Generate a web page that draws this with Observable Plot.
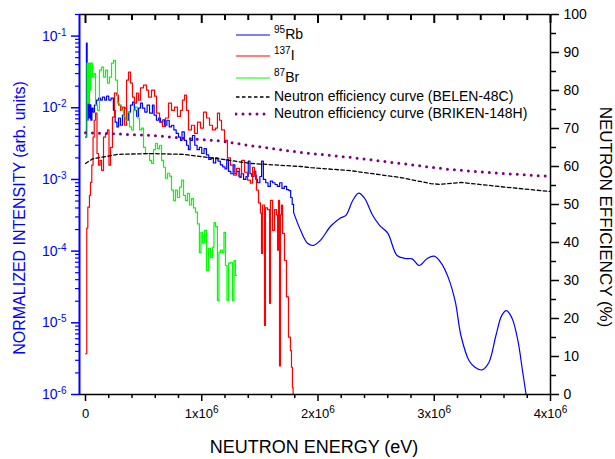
<!DOCTYPE html>
<html><head><meta charset="utf-8">
<script src="https://cdn.jsdelivr.net/npm/d3@7"></script>
<script src="https://cdn.jsdelivr.net/npm/@observablehq/plot@0.6"></script>
<style>
html,body{margin:0;padding:0;background:#fff;}
#wrap{position:relative;width:615px;height:459px;font-family:"Liberation Sans",Arial,sans-serif;}
#wrap svg{position:absolute;left:0;top:0;}
.leg{position:absolute;left:235px;font-size:14px;line-height:20px;height:20px;white-space:nowrap;color:#000;}
.leg svg{position:static !important;vertical-align:middle;margin-right:3px;}
.leg sup{font-size:10px;vertical-align:6px;line-height:0;}
</style>
</head><body>
<div id="wrap"></div>
<script>
// ---- data (energy in keV, intensity normalized) ----
const rb95Hist = [[0,3.9e-3],[8,8.0e-2],[14,6.7e-3],[22,2.4e-2],[30,7.2e-3],[38,1.1e-2],[46,6.7e-3],[55,9.9e-3],[65,8.7e-3],[77,1.09e-2],[95,1.28e-2],[112,1.36e-2],[129,1.28e-2],[145,1.41e-2],[165,1.28e-2],[181,1.45e-2],[200,1.28e-2],[220,1.36e-2],[240,9.2e-3],[255,6.3e-3],[270,5.4e-3],[284,7.2e-3],[300,5.7e-3],[318,7.9e-3],[335,9.9e-3],[353,6.7e-3],[370,8.7e-3],[387,1.09e-2],[405,1.2e-2],[420,9.2e-3],[439,7.6e-3],[456,9.9e-3],[473,1.16e-2],[490,9.9e-3],[510,8.7e-3],[530,1.09e-2],[551,8.4e-3],[576,1.09e-2],[590,7.9e-3],[610,6.7e-3],[628,7.2e-3],[645,6.3e-3],[665,6.8e-3],[680,5.7e-3],[700,6.7e-3],[720,5.4e-3],[740,5.7e-3],[760,4.9e-3],[780,4.4e-3],[800,3.9e-3],[817,3.5e-3],[830,4.6e-3],[850,3.5e-3],[869,3.0e-3],[885,2.6e-3],[900,3.5e-3],[920,4.1e-3],[940,3.0e-3],[960,2.6e-3],[980,2.8e-3],[1000,2.3e-3],[1020,2.7e-3],[1040,2.2e-3],[1060,1.9e-3],[1080,2.0e-3],[1100,1.7e-3],[1120,2.0e-3],[1140,1.8e-3],[1160,1.6e-3],[1180,1.5e-3],[1200,1.4e-3],[1215,1.9e-3],[1230,1.3e-3],[1250,1.2e-3],[1270,1.6e-3],[1285,1.2e-3],[1300,1.3e-3],[1320,1.1e-3],[1340,1.2e-3],[1360,1.0e-3],[1380,1.1e-3],[1400,1.8e-3],[1415,1.2e-3],[1430,1.1e-3],[1450,1.3e-3],[1465,1.0e-3],[1480,9.0e-4],[1500,1.1e-3],[1515,1.8e-3],[1530,1.0e-3],[1550,9.0e-4],[1570,8.0e-4],[1590,9.5e-4],[1610,9.0e-4],[1630,8.5e-4],[1650,8.0e-4],[1670,9.0e-4],[1690,7.5e-4],[1710,8.0e-4],[1730,7.2e-4],[1750,7.0e-4],[1765,5.6e-4],[1778,4.5e-4],[1790,3.5e-4]];
const rb95Smooth = [[1790,3.47e-4],[1850,1.95e-4],[1910,1.29e-4],[1960,1.2e-4],[2020,1.41e-4],[2110,2.24e-4],[2190,2.88e-4],[2240,3.16e-4],[2300,5.13e-4],[2350,6.46e-4],[2400,5.5e-4],[2470,3.16e-4],[2530,2.29e-4],[2600,1.78e-4],[2680,8.7e-5],[2750,7.9e-5],[2810,7.8e-5],[2870,6.3e-5],[2940,7.9e-5],[3000,8.5e-5],[3060,6.8e-5],[3120,4.3e-5],[3180,2.0e-5],[3230,6.6e-6],[3300,2.95e-6],[3350,2.4e-6],[3410,2.2e-6],[3470,2.8e-6],[3530,6.6e-6],[3580,1.26e-5],[3620,1.48e-5],[3670,1.15e-5],[3720,5.6e-6],[3760,2.1e-6],[3790,1.0e-6]];
const i137Hist = [[0,3.7e-6],[11,2.1e-4],[20,4.1e-4],[34,6.0e-4],[43,9.1e-4],[54,1.58e-3],[65,3.9e-3],[75,6.7e-3],[86,8.4e-3],[99,2.3e-3],[112,1.58e-3],[125,1.85e-3],[138,1.34e-3],[155,3.9e-3],[172,4.4e-3],[189,4.9e-3],[202,1.58e-3],[215,2.8e-3],[232,7.4e-3],[249,1.6e-2],[267,1.5e-2],[284,1.09e-2],[301,9.2e-3],[318,1.02e-2],[335,5.7e-3],[353,2.43e-2],[370,3.14e-2],[387,2.21e-2],[404,1.41e-2],[421,1.16e-2],[439,1.6e-2],[456,1.28e-2],[473,1.9e-2],[499,2.07e-2],[525,1.76e-2],[542,1.41e-2],[568,1.76e-2],[594,1.45e-2],[611,8.4e-3],[637,6.3e-3],[662,5.5e-3],[688,7.2e-3],[714,1.16e-2],[740,9.2e-3],[766,1.02e-2],[791,7.6e-3],[817,9.2e-3],[834,1.28e-2],[852,1.5e-2],[869,9.2e-3],[886,4.9e-3],[912,5.7e-3],[938,4.4e-3],[963,6.3e-3],[989,5.2e-3],[1015,8.7e-3],[1041,7.2e-3],[1067,5.7e-3],[1092,4.9e-3],[1118,5.2e-3],[1135,8.4e-3],[1153,6.7e-3],[1170,4.9e-3],[1196,3.5e-3],[1221,2.0e-3],[1247,1.58e-3],[1273,1.15e-3],[1299,1.43e-3],[1325,1.07e-3],[1342,1.85e-3],[1368,1.26e-3],[1394,9.8e-4],[1419,8.9e-4],[1437,1.48e-3],[1454,1.15e-3],[1471,7.1e-4],[1488,4.7e-4],[1505,3.4e-4],[1514,9.3e-5],[1523,4.4e-4],[1540,9.2e-6],[1548,4.0e-4],[1566,3.8e-4],[1583,1.87e-5],[1591,5.1e-4],[1609,1.95e-4],[1626,3.8e-4],[1643,3.2e-4],[1652,1.03e-4],[1660,5.1e-4],[1669,2.5e-6],[1677,3.2e-4],[1686,4.4e-4],[1695,1.77e-4],[1712,7.4e-5],[1729,2.3e-5],[1746,6.3e-6],[1763,4.1e-6],[1772,2.4e-6],[1780,1.25e-6],[1786,1.0e-6]];
const br87Hist = [[9,3.9e-3],[13,4.2e-2],[22,1.16e-2],[30,4.2e-2],[39,1.76e-2],[47,4.2e-2],[60,2.67e-2],[73,3.0e-2],[86,1.09e-2],[103,9.2e-3],[120,3.35e-2],[138,3.7e-2],[155,2.67e-2],[172,3.35e-2],[189,2.21e-2],[206,2.67e-2],[224,4.2e-2],[241,4.6e-2],[258,2.43e-2],[275,1.16e-2],[292,1.09e-2],[310,9.2e-3],[327,7.6e-3],[344,6.7e-3],[361,8.7e-3],[378,5.4e-3],[396,4.9e-3],[413,9.2e-3],[430,1.02e-2],[447,7.2e-3],[465,4.9e-3],[482,5.2e-3],[499,2.8e-3],[516,2.3e-3],[533,2.3e-3],[551,1.85e-3],[568,1.68e-3],[585,2.6e-3],[602,3.2e-3],[619,2.7e-3],[637,3.0e-3],[654,1.85e-3],[671,1.48e-3],[688,1.04e-3],[705,1.22e-3],[723,1.11e-3],[740,7.1e-4],[757,5.1e-4],[774,7.1e-4],[791,5.6e-4],[809,7.8e-4],[826,9.8e-4],[843,6.0e-4],[860,5.1e-4],[877,6.4e-4],[895,4.4e-4],[912,5.4e-4],[929,4.0e-4],[946,3.5e-4],[963,2.4e-4],[980,9.6e-5],[993,1.83e-4],[1006,1.29e-4],[1024,1.95e-4],[1041,5.4e-5],[1058,1.09e-4],[1075,8.2e-5],[1092,1.13e-4],[1105,2.5e-4],[1118,2.2e-4],[1135,2.06e-5],[1148,9.6e-5],[1161,1.03e-4],[1178,9.6e-5],[1191,1.83e-4],[1204,6.3e-5],[1217,2.06e-5],[1230,6.8e-5],[1247,7.0e-5],[1264,2.06e-5],[1277,7.4e-5],[1290,4.6e-5],[1300,4.6e-5]];
// efficiency curves (energy in MeV, efficiency in %)
const belenE   = [0, 0.06, 0.13, 0.28, 0.56, 0.84, 1.13, 1.42, 1.85, 1.94, 2.28, 2.71, 2.97, 3.05, 3.23, 3.57, 4.0];
const belenEff = [60.8, 62.0, 62.4, 63.2, 63.4, 63.2, 62.1, 60.8, 60.0, 59.7, 58.9, 57.1, 55.5, 55.3, 55.8, 54.7, 53.4];
const brikenE   = [0, 0.56, 0.86, 1.14, 1.42, 1.85, 2.28, 2.71, 3.14, 3.57, 4.0];
const brikenEff = [68.9, 68.2, 67.4, 66.8, 65.5, 63.7, 62.4, 60.8, 59.2, 58.2, 57.4];
// ticks
const xMajorTicks = [0, 1e6, 2e6, 3e6, 4e6];
const xMinorTicks = [2e5,4e5,6e5,8e5,1.2e6,1.4e6,1.6e6,1.8e6,2.2e6,2.4e6,2.6e6,2.8e6,3.2e6,3.4e6,3.6e6,3.8e6];
const xTickLabels = ["0", "1x10^6", "2x10^6", "3x10^6", "4x10^6"];
const yMajorTicks = [1e-6, 1e-5, 1e-4, 1e-3, 1e-2, 1e-1];
const yTickLabels = ["10^-6","10^-5","10^-4","10^-3","10^-2","10^-1"];
const effMajorTicks = [0,10,20,30,40,50,60,70,80,90,100];
const effMinorTicks = [5,15,25,35,45,55,65,75,85,95];
const legendItems = [
  {sup:"95", name:"Rb", color:"#0000ff", dash:null},
  {sup:"137", name:"I", color:"#ff0000", dash:null},
  {sup:"87", name:"Br", color:"#00ff00", dash:null},
  {sup:"", name:"Neutron efficiency curve (BELEN-48C)", color:"#000000", dash:"dashed"},
  {sup:"", name:"Neutron efficiency curve (BRIKEN-148H)", color:"#800080", dash:"dotted"}
];

// ---- build ----
const W = 615, H = 459, mL = 79, mR = 65, mT = 14, mB = 65;
const plotH = H - mT - mB;
const xDom = [-51600, 4e6];
const yDom = [1e-6, 0.2];
const yMinorTicks = [];
for (let p = -6; p <= -1; p++) for (let m = 2; m <= 9; m++) { const v = m * Math.pow(10, p); if (v <= yDom[1]) yMinorTicks.push(v); }
const toRows = (arr) => arr.map(([k, v]) => ({e: k * 1000, v}));
const effRows = (es, vs) => es.map((e, i) => ({e: e * 1e6, v: vs[i]}));
const fmtX = (d) => xTickLabels[xMajorTicks.indexOf(d)];
const fmtY = (d) => yTickLabels[yMajorTicks.findIndex(t => Math.abs(t - d) / t < 1e-6)];
const none = () => "";
const font = "'Liberation Sans', Arial, Helvetica, sans-serif";

const p1 = Plot.plot({
  width: W, height: H, marginLeft: mL, marginRight: mR, marginTop: mT, marginBottom: mB,
  style: {fontFamily: font, fontSize: "14px", background: "transparent", overflow: "visible"},
  x: {domain: xDom},
  y: {type: "log", domain: yDom},
  marks: [
    Plot.line(toRows(rb95Hist), {x: "e", y: "v", stroke: "#0000ff", strokeWidth: 1.2, curve: "step-after"}),
    Plot.line(toRows(rb95Smooth), {x: "e", y: "v", stroke: "#0000ff", strokeWidth: 1.2, curve: "catmull-rom"}),
    Plot.line(toRows(i137Hist), {x: "e", y: "v", stroke: "#ff0000", strokeWidth: 1.2, curve: "step-after"}),
    Plot.line(toRows(br87Hist), {x: "e", y: "v", stroke: "#00ff00", strokeWidth: 1.2, curve: "step-after"}),
    Plot.axisX({anchor: "bottom", ticks: xMajorTicks, tickSize: 7, tickPadding: 7, tickFormat: fmtX, label: null, strokeWidth: 1.5, fontSize: 13}),
    Plot.axisX({anchor: "bottom", ticks: xMinorTicks, tickSize: 4, tickFormat: none, label: null, strokeWidth: 1.5}),
    Plot.axisY({anchor: "left", ticks: yMajorTicks, tickSize: 8, tickPadding: 5, tickFormat: fmtY, label: null, color: "#0000ff", strokeWidth: 1.5}),
    Plot.axisY({anchor: "left", ticks: yMinorTicks, tickSize: 4, tickFormat: none, label: null, color: "#0000ff", strokeWidth: 1.2}),
    Plot.ruleY([yDom[1]], {stroke: "#000", strokeWidth: 1.5}),
    Plot.ruleY([yDom[0]], {stroke: "#000", strokeWidth: 1.5}),
    Plot.ruleX([xDom[1]], {stroke: "#000", strokeWidth: 1.5}),
    Plot.ruleX([xDom[0]], {stroke: "#0000ff", strokeWidth: 2})
  ]
});

const p2 = Plot.plot({
  width: W, height: H, marginLeft: mL, marginRight: mR, marginTop: mT, marginBottom: mB,
  style: {fontFamily: font, fontSize: "14px", background: "transparent", overflow: "visible"},
  x: {domain: xDom, axis: null},
  y: {domain: [0, 100]},
  marks: [
    Plot.line(effRows(belenE, belenEff), {x: "e", y: "v", stroke: "#000", strokeWidth: 1.3, strokeDasharray: "3.5,2.5"}),
    Plot.line(effRows(brikenE, brikenEff), {x: "e", y: "v", stroke: "#800080", strokeWidth: 3, strokeDasharray: "0,7", strokeLinecap: "round"}),
    // inward ticks along the top edge (efficiency scale: 100 is the top)
    Plot.ruleX(xMajorTicks, {x: d => d, y1: 100, y2: 100 - 9 * 100 / plotH, stroke: "#000", strokeWidth: 2}),
    Plot.ruleX(xMinorTicks, {x: d => d, y1: 100, y2: 100 - 6 * 100 / plotH, stroke: "#000", strokeWidth: 2}),
    Plot.axisY({anchor: "right", ticks: effMajorTicks, tickSize: 8, tickPadding: 5, label: null, strokeWidth: 1.5}),
    Plot.axisY({anchor: "right", ticks: effMinorTicks, tickSize: 5, tickFormat: none, label: null, strokeWidth: 1.5})
  ]
});

function supify(svg) {
  d3.select(svg).selectAll("text").each(function () {
    const s = this.textContent;
    if (!s.includes("^")) return;
    const [b, e] = s.split("^");
    const t = d3.select(this);
    t.text(b);
    t.append("tspan").attr("dy", "-0.5em").attr("font-size", "10px").text(e);
  });
}
supify(p1);

const s1 = d3.select(p1);
s1.append("text").attr("x", 314).attr("y", 453).attr("text-anchor", "middle")
  .attr("font-size", 18).attr("fill", "#000").text("NEUTRON ENERGY (eV)");
s1.append("text").attr("transform", "translate(19,218) rotate(-90)").attr("text-anchor", "middle")
  .attr("dominant-baseline", "central").attr("font-size", 16).attr("fill", "#0000ff").text("NORMALIZED INTENSITY (arb. units)");
s1.append("text").attr("transform", "translate(605,217) rotate(90)").attr("text-anchor", "middle")
  .attr("dominant-baseline", "central").attr("font-size", 17).attr("fill", "#000").text("NEUTRON EFFICIENCY (%)");

const wrap = document.getElementById("wrap");
wrap.appendChild(p1);
wrap.appendChild(p2);

const rowCenters = [34, 55, 77, 96, 113];
legendItems.forEach((it, i) => {
  const row = document.createElement("div");
  row.className = "leg";
  row.style.top = (rowCenters[i] - 10) + "px";
  const dash = it.dash === "dashed" ? 'stroke-dasharray="3.5,2.5" stroke-width="1.3"' :
               it.dash === "dotted" ? 'stroke-dasharray="0,7" stroke-width="3" stroke-linecap="round"' : 'stroke-width="1.2"';
  row.innerHTML = `<svg width="36" height="20"><line x1="1" y1="10" x2="35" y2="10" stroke="${it.color}" ${dash}/></svg>` +
    (it.sup ? `<sup>${it.sup}</sup>` : "") + it.name;
  wrap.appendChild(row);
});
</script>
</body></html>
